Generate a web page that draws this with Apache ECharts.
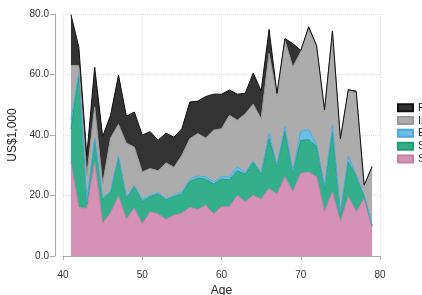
<!DOCTYPE html>
<html>
<head>
<meta charset="utf-8">
<script src="https://cdn.jsdelivr.net/npm/echarts@6/dist/echarts.min.js"></script>
<style>
  html, body { margin: 0; padding: 0; background: #fff; }
  #chart { width: 422px; height: 295px; }
</style>
</head>
<body>
<div id="chart"></div>
<script>
// age categories on the x axis (40 and 80 only carry the axis ends)
var ages = [40, 41, 42, 43, 44, 45, 46, 47, 48, 49, 50, 51, 52, 53, 54, 55, 56, 57, 58, 59, 60,
            61, 62, 63, 64, 65, 66, 67, 68, 69, 70, 71, 72, 73, 74, 75, 76, 77, 78, 79, 80];

// stacked components, bottom to top (US$1,000), ages 41..79
var socialSecurity = [31, 16, 15.8, 31, 10.7, 14.3, 19.8, 12.2, 15.8, 10.6, 14.6, 13.9, 12.1, 13.5, 14.1, 16.1, 15.4, 16.8, 13.9, 16.3,
                      16.3, 20.1, 17.9, 20.1, 18.8, 22.3, 20.5, 26.2, 21.2, 27.3, 27.8, 26.2, 14.6, 21.2, 11.3, 19.6, 14.6, 19, 9.5];
var savings = [11, 43.5, 1.4, 7.3, 8.0, 6.7, 12.7, 6.8, 7.1, 7.4, 5.0, 6.6, 6.4, 6.1, 6.4, 8.5, 10.3, 8.6, 9.9, 9.1,
               8.9, 8.1, 9.1, 10.8, 8.0, 16.5, 9.2, 15.1, 6.4, 10.9, 10.7, 10.0, 7.8, 19.8, 2.7, 11.5, 11.6, 0.8, 0.5];
var education = [3, 1.3, 0.8, 0.7, 0.5, 0.4, 0.5, 0.4, 0.4, 0.7, 0.5, 0.4, 0.5, 0.5, 0.7, 0.7, 0.7, 0.8, 0.7, 0.8,
                 1.0, 1.3, 0.5, 0.6, 0.6, 1.7, 0.3, 1.5, 0.2, 3.0, 3.3, 0.5, 0.5, 2.2, 0.1, 1.9, 0.5, 0.3, 0.1];
var income = [18, 2.2, 8.5, 10.3, 4.6, 17.6, 10.5, 17.9, 12.7, 9.1, 8.8, 7.3, 11.8, 9.2, 12.1, 13.5, 14.1, 12.8, 17.1, 15.9,
              20.3, 15.4, 19.5, 18.7, 18.0, 26.5, 23.0, 28.5, 34.7, 26.3, 33.2, 32.3, 25.1, 31.0, 24.7, 21.6, 27.3, 3.3, 19.4];
var financial = [16.8, 6, 6.7, 13.1, 15.7, 7.5, 16.3, 8.9, 11.6, 12.2, 12.2, 10.1, 9.8, 10, 8.8, 12.1, 10.7, 13.7, 11.9, 11.4,
                 8.4, 8.6, 6.8, 10.3, 9.2, 7.9, 0.8, 0.6, 7.7, 0.5, 0.8, 0.6, 0.3, 0.2, 0, 0.4, 0.5, 0, 0];

var seriesNames = ['Social security', 'Savings', 'Education', 'Income', 'Financial'];
var seriesValues = [socialSecurity, savings, education, income, financial];
var seriesColors = ['#d691b6', '#33b08a', '#6dbdea', '#acacac', '#333333'];
var lineColors = ['#c77fa6', '#1f9e78', '#4aa8dc', '#999999', '#111111'];

var chart = echarts.init(document.getElementById('chart'), null, { renderer: 'canvas' });

var everyTen = function(index, value) { return Number(value) % 10 === 0; };

var series = seriesValues.map(function(vals, i) {
    return {
        name: seriesNames[i],
        type: 'line',
        stack: 'total',
        symbol: 'none',
        connectNulls: false,
        data: [null].concat(vals, [null]),
        lineStyle: { color: lineColors[i], width: 1 },
        areaStyle: { color: seriesColors[i], opacity: 1 },
        itemStyle: { color: seriesColors[i], borderColor: lineColors[i], borderWidth: 1 },
        emphasis: { disabled: true }
    };
});

var option = {
    animation: false,
    textStyle: { fontFamily: 'Liberation Sans, Arial, sans-serif' },
    grid: { left: 63, right: 42, top: 14, bottom: 39, outerBoundsMode: 'none' },
    legend: {
        orient: 'vertical',
        left: 392,
        top: 97,
        padding: 5,
        icon: 'rect',
        itemWidth: 15,
        itemHeight: 7,
        itemGap: 1.3,
        data: seriesNames.slice().reverse(),
        textStyle: { fontSize: 11, color: '#222', lineHeight: 11.5 }
    },
    xAxis: {
        type: 'category',
        data: ages,
        boundaryGap: false,
        offset: 7,
        name: 'Age',
        nameLocation: 'middle',
        nameGap: 21,
        nameTextStyle: { fontSize: 12, color: '#222' },
        axisLine: { show: true, lineStyle: { color: '#aaa' } },
        axisTick: { show: true, length: 4, interval: everyTen, lineStyle: { color: '#aaa' } },
        axisLabel: { fontSize: 10, color: '#333', margin: 7, interval: everyTen },
        splitLine: { show: true, interval: everyTen, lineStyle: { color: '#ddd', type: 'dotted' } }
    },
    yAxis: {
        type: 'value',
        min: 0,
        max: 80,
        interval: 20,
        offset: 8,
        name: 'US$1,000',
        nameLocation: 'middle',
        nameGap: 34,
        nameTextStyle: { fontSize: 12, color: '#222' },
        axisLine: { show: true, lineStyle: { color: '#aaa' } },
        axisTick: { show: true, length: 5, lineStyle: { color: '#aaa' } },
        axisLabel: {
            fontSize: 10, color: '#333', margin: 6,
            formatter: function(v) { return v.toFixed(1); }
        },
        splitLine: { show: true, lineStyle: { color: '#ddd', type: 'dotted' } }
    },
    series: series
};

chart.setOption(option);
</script>
</body>
</html>
